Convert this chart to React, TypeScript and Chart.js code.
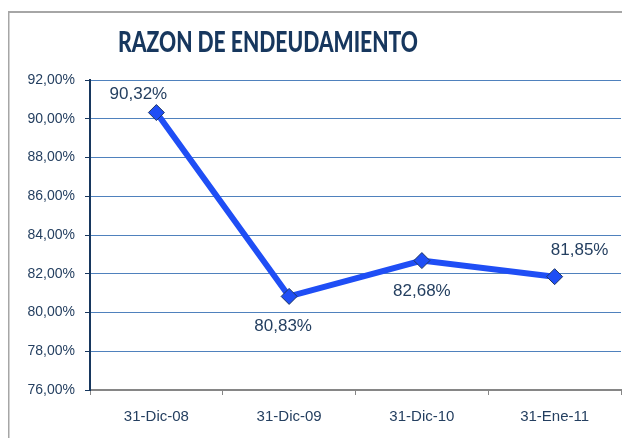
import React, { useEffect, useRef } from "react";
import { Chart, registerables } from "chart.js";

Chart.register(...registerables);

const categories = ["31-Dic-08", "31-Dic-09", "31-Dic-10", "31-Ene-11"];
const razonValues = [90.32, 80.83, 82.68, 81.85];
const yMin = 76;
const yMax = 92;
const yStep = 2;
const titleText = "RAZON DE ENDEUDAMIENTO";

const FONT = "'Liberation Sans', Arial, sans-serif";
const TITLE_FONT = "Lato, 'Liberation Sans', Arial, sans-serif";
const TEXT_COLOR = "#243F60";
const fmt = (v: number) => v.toFixed(2).replace(".", ",") + "%";

const labelOffsets = [
  [-18, -18],
  [-6, 30],
  [0, 31],
  [25, -26],
];

const framePlugin = {
  id: "frame",
  beforeDraw(chart: any) {
    const ctx = chart.ctx;
    ctx.save();
    ctx.fillStyle = "#ffffff";
    ctx.fillRect(0, 0, chart.width, chart.height);
    ctx.strokeStyle = "#A6A6A6";
    ctx.lineWidth = 2;
    ctx.beginPath();
    ctx.moveTo(0.5, chart.height);
    ctx.lineTo(0.5, 4);
    ctx.lineTo(chart.width, 4);
    ctx.stroke();
    ctx.restore();
  },
};

const titlePlugin = {
  id: "customTitle",
  afterDraw(chart: any) {
    const ctx = chart.ctx;
    ctx.save();
    ctx.font = "900 28px " + TITLE_FONT;
    ctx.fillStyle = "#17375E";
    ctx.textAlign = "center";
    ctx.textBaseline = "alphabetic";
    const w = ctx.measureText(titleText).width;
    const target = 300;
    const sx = target / w;
    ctx.translate(260, 44);
    ctx.scale(sx, 1);
    ctx.fillText(titleText, 0, 0);
    ctx.restore();
  },
};

const labelPlugin = {
  id: "pointLabels",
  afterDatasetsDraw(chart: any) {
    const ctx = chart.ctx;
    const meta = chart.getDatasetMeta(0);
    ctx.save();
    ctx.font = "17px " + FONT;
    ctx.fillStyle = TEXT_COLOR;
    ctx.textAlign = "center";
    ctx.textBaseline = "middle";
    meta.data.forEach((pt: any, i: number) => {
      const [dx, dy] = labelOffsets[i];
      ctx.fillText(fmt(razonValues[i]), pt.x + dx, pt.y + dy);
    });
    ctx.restore();
  },
};

export default function App() {
  const ref = useRef<HTMLCanvasElement | null>(null);
  useEffect(() => {
    if (!ref.current) return;
    const chart = new Chart(ref.current, {
      type: "line",
      data: {
        labels: categories,
        datasets: [
          {
            data: razonValues,
            borderColor: "#1F4EF5",
            borderWidth: 6,
            backgroundColor: "#1F4EF5",
            pointStyle: "rectRot",
            pointRadius: 8,
            pointBorderColor: "#1F3864",
            pointBorderWidth: 1,
            pointBackgroundColor: "#1F4EF5",
            tension: 0,
          },
        ],
      },
      options: {
        responsive: false,
        animation: false,
        layout: { padding: { top: 72, right: 7, bottom: 0, left: 0 } },
        plugins: {
          legend: { display: false },
          title: { display: false },
          tooltip: { enabled: false },
        },
        scales: {
          x: {
            offset: true,
            grid: {
              offset: true,
              drawOnChartArea: false,
              drawTicks: true,
              tickLength: 5,
              tickColor: "#868686",
              tickWidth: 1,
            },
            border: { color: "#868686", width: 2 },
            ticks: {
              color: TEXT_COLOR,
              font: { family: FONT, size: 15 },
              padding: 13,
              maxRotation: 0,
            },
            afterFit: (s: any) => {
              s.height = 48;
            },
          },
          y: {
            min: yMin,
            max: yMax,
            grid: {
              color: "#4F81BD",
              lineWidth: 1,
              drawTicks: true,
              tickLength: 5,
              tickColor: "#17375E",
            },
            border: { color: "#17375E", width: 2 },
            ticks: {
              stepSize: yStep,
              color: TEXT_COLOR,
              font: { family: FONT, size: 14 },
              padding: 10,
              callback: (v: any) => fmt(Number(v)),
            },
            afterFit: (s: any) => {
              s.width = 82;
            },
          },
        },
      },
      plugins: [framePlugin, titlePlugin, labelPlugin],
    });
    return () => chart.destroy();
  }, []);
  return <canvas ref={ref} width={622} height={430} style={{ display: "block" }} />;
}
